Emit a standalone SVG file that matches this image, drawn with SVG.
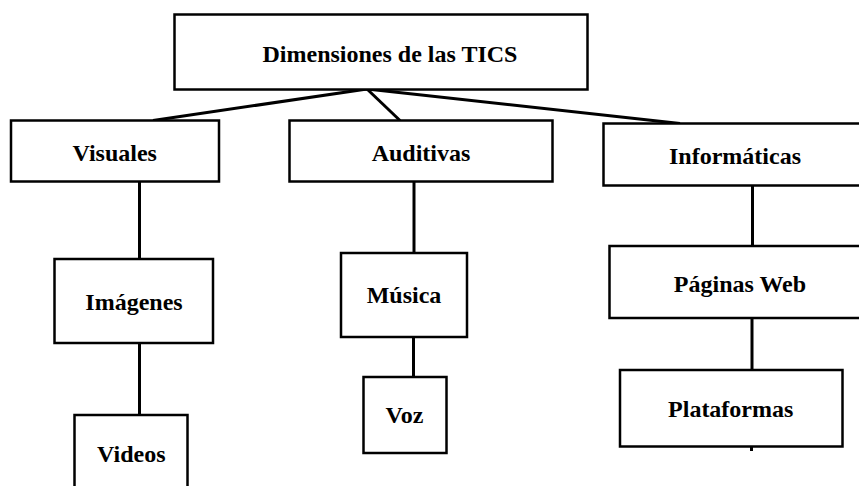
<svg xmlns="http://www.w3.org/2000/svg" width="859" height="486" viewBox="0 0 859 486">
<style>
.box{fill:#fff;stroke:#000;stroke-width:2.5}
.lbl{font-family:"Liberation Serif","Times New Roman",serif;font-weight:bold;font-size:24px;fill:#000;text-anchor:middle}
.con{stroke:#000;stroke-width:3;fill:none}
</style>
<rect width="859" height="486" fill="#fff"/>
<g id="connectors">
<line class="con" x1="367" y1="89" x2="153" y2="120.5"/>
<line class="con" x1="367" y1="89" x2="400" y2="120.5"/>
<line class="con" x1="367" y1="89" x2="680" y2="123.5"/>
<line class="con" x1="139.5" y1="181" x2="139.5" y2="259"/>
<line class="con" x1="139.5" y1="343" x2="139.5" y2="415"/>
<line class="con" x1="414" y1="181" x2="414" y2="253"/>
<line class="con" x1="413.5" y1="337" x2="413.5" y2="377"/>
<line class="con" x1="752.5" y1="185.5" x2="752.5" y2="246"/>
<line class="con" x1="752" y1="318" x2="752" y2="370"/>
<line class="con" x1="751.5" y1="446.5" x2="751.5" y2="451"/>
</g>
<g id="n-root"><rect class="box" x="174.5" y="14.5" width="413" height="75"/><text class="lbl" x="390" y="62">Dimensiones de las TICS</text></g>
<g id="n-visuales"><rect class="box" x="11" y="120.5" width="208" height="61"/><text class="lbl" x="114.7" y="161">Visuales</text></g>
<g id="n-auditivas"><rect class="box" x="289.5" y="120.5" width="263" height="61"/><text class="lbl" x="421" y="160.5">Auditivas</text></g>
<g id="n-informaticas"><rect class="box" x="603.5" y="123.5" width="262" height="62"/><text class="lbl" x="735" y="164">Informáticas</text></g>
<g id="n-imagenes"><rect class="box" x="54.5" y="259" width="158.5" height="84"/><text class="lbl" x="134" y="310">Imágenes</text></g>
<g id="n-musica"><rect class="box" x="341" y="253" width="126" height="84"/><text class="lbl" x="404" y="303">Música</text></g>
<g id="n-paginas"><rect class="box" x="609.5" y="246" width="256" height="72"/><text class="lbl" x="740" y="292">Páginas Web</text></g>
<g id="n-videos"><rect class="box" x="74.5" y="415" width="113" height="80"/><text class="lbl" x="131.3" y="462">Videos</text></g>
<g id="n-voz"><rect class="box" x="363.5" y="377" width="83" height="76"/><text class="lbl" x="404.5" y="423">Voz</text></g>
<g id="n-plataformas"><rect class="box" x="620" y="370" width="222.5" height="76.5"/><text class="lbl" x="730.7" y="417">Plataformas</text></g>
</svg>
